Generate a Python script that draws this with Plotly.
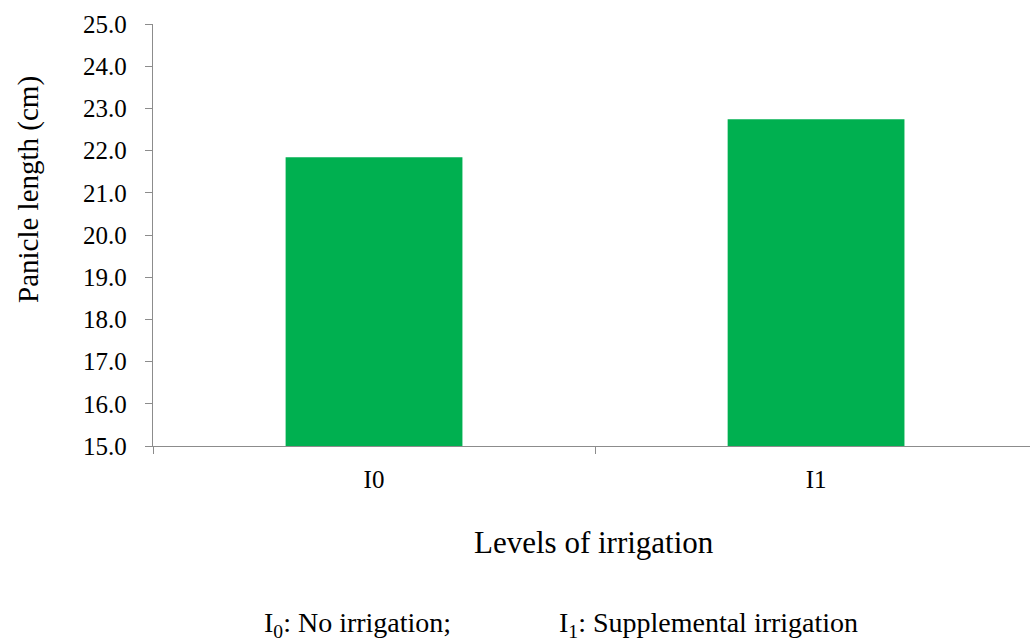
import plotly.graph_objects as go

levels = ["I0", "I1"]
panicle_length = [21.84, 22.74]
y_ticks = [15, 16, 17, 18, 19, 20, 21, 22, 23, 24, 25]

serif = "Liberation Serif, Times New Roman, serif"
axis_grey = "#8c8c8c"

fig = go.Figure()
fig.add_trace(go.Bar(x=levels, y=panicle_length, width=0.4,
                     marker=dict(color="#00B050", line=dict(width=0))))

fig.update_layout(
    width=1030, height=644,
    margin=dict(l=153, r=0, t=24, b=198),
    plot_bgcolor="white", paper_bgcolor="white",
    showlegend=False,
    font=dict(family=serif, color="black", size=24),
)
fig.update_yaxes(
    range=[15, 25], tickvals=y_ticks, tickformat=".1f",
    showgrid=False, zeroline=False,
    showline=True, linecolor=axis_grey, linewidth=1.3,
    ticks="outside", ticklen=7, tickcolor=axis_grey, tickwidth=1.3,
    ticklabelstandoff=13,
    tickfont=dict(family=serif, size=25, color="black"),
)
fig.update_xaxes(
    range=[-0.5, 1.484], showgrid=False,
    showline=True, linecolor=axis_grey, linewidth=1.3,
    ticks="outside", tickson="boundaries", ticklen=7, tickcolor=axis_grey, tickwidth=1.3,
    ticklabelstandoff=11,
    tickfont=dict(family=serif, size=25, color="black"),
)

fig.add_annotation(text="Panicle length (cm)", textangle=-90,
                   xref="paper", yref="paper", x=(29 - 153) / 877, y=(446 - 190) / 422,
                   xanchor="center", yanchor="middle", showarrow=False,
                   font=dict(family=serif, size=29))
fig.add_annotation(text="Levels of irrigation",
                   xref="paper", yref="paper", x=(594 - 153) / 877, y=-(542 - 446) / 422,
                   xanchor="center", yanchor="middle", showarrow=False,
                   font=dict(family=serif, size=31))
fig.add_annotation(text="I<sub>0</sub>: No irrigation;",
                   xref="paper", yref="paper", x=(262 - 153) / 877, y=-(624 - 446) / 422,
                   xanchor="left", yanchor="middle", showarrow=False,
                   font=dict(family=serif, size=28))
fig.add_annotation(text="I<sub>1</sub>: Supplemental irrigation",
                   xref="paper", yref="paper", x=(557 - 153) / 877, y=-(624 - 446) / 422,
                   xanchor="left", yanchor="middle", showarrow=False,
                   font=dict(family=serif, size=28))

fig.write_html("out.html", config={"displayModeBar": False},
               post_script="document.body.style.margin='0';")
